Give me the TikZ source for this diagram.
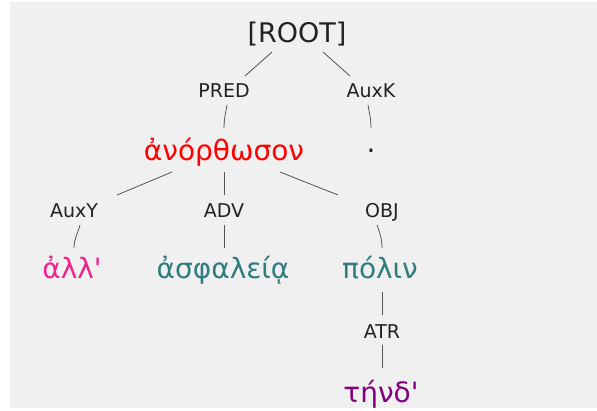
\documentclass[tikz,border=0pt]{standalone}
\usepackage{fontspec}
\setmainfont{DejaVu Sans}
\definecolor{bgray}{HTML}{F0F0F0}
\definecolor{edgegray}{HTML}{555555}
\definecolor{labelink}{HTML}{222222}
\definecolor{wred}{HTML}{FF0000}
\definecolor{wpink}{HTML}{F0208F}
\definecolor{wteal}{HTML}{2F7D7E}
\definecolor{wpurple}{HTML}{800080}
\tikzset{
  x=1pt, y=1pt,
  deprel/.style={anchor=base, inner sep=0pt, text=labelink, font=\fontsize{19}{22}\selectfont},
  token/.style={anchor=base, inner sep=0pt, font=\fontsize{28}{32}\selectfont},
  arc/.style={draw=edgegray, line width=0.8pt},
}
\begin{document}
\begin{tikzpicture}
  \useasboundingbox (0,0) rectangle (597,-410);
  \fill[bgray] (10,-2) rectangle (597,-408);

  % root and first-level relations
  \node[token, text=labelink, font=\fontsize{27}{32}\selectfont] (root) at (297,-42) {[ROOT]};
  \node[deprel] (pred) at (224,-97) {PRED};
  \node[deprel] (auxk) at (371,-97) {AuxK};

  % words of the sentence
  \node[token, text=wred] (w1) at (224,-160) {ἀνόρθωσον};
  \node[token, text=labelink] (dot) at (371,-160) {·};

  \node[deprel] (auxy) at (74,-217) {AuxY};
  \node[deprel] (adv) at (224,-217) {ADV};
  \node[deprel] (obj) at (382,-217) {OBJ};

  \node[token, text=wpink] (w2) at (72,-278) {ἀλλ\textquotesingle};
  \node[token, text=wteal] (w3) at (223,-278) {ἀσφαλείᾳ};
  \node[token, text=wteal] (w4) at (380,-278) {πόλιν};

  \node[deprel] (atr) at (382,-338) {ATR};
  \node[token, text=wpurple] (w5) at (381,-402) {τήνδ\textquotesingle};

  % dependency arcs
  \draw[arc] ([shift={(-25,-10)}]root.base) -- ([shift={(21,21)}]pred.base);
  \draw[arc] ([shift={(26,-10)}]root.base) -- ([shift={(-21,21)}]auxk.base);
  \draw[arc] ([shift={(3,-8)}]pred.base) to[out=-100, in=90] ([shift={(0,32)}]w1.base);
  \draw[arc] ([shift={(-3,-8)}]auxk.base) to[out=-80, in=90] ([shift={(0,32)}]dot.base);

  \draw[arc] ([shift={(-52,-12)}]w1.base) -- ([shift={(43,22)}]auxy.base);
  \draw[arc] ([shift={(0,-12)}]w1.base) -- ([shift={(0,22)}]adv.base);
  \draw[arc] ([shift={(56,-12)}]w1.base) -- ([shift={(-44,22)}]obj.base);

  \draw[arc] ([shift={(6,-8)}]auxy.base) to[out=-105, in=90] ([shift={(2,30)}]w2.base);
  \draw[arc] ([shift={(0,-8)}]adv.base) -- ([shift={(1,30)}]w3.base);
  \draw[arc] ([shift={(-5,-8)}]obj.base) to[out=-70, in=90] ([shift={(2,30)}]w4.base);

  \draw[arc] ([shift={(2,-14)}]w4.base) -- ([shift={(0,23)}]atr.base);
  \draw[arc] ([shift={(0,-7)}]atr.base) -- ([shift={(1,34)}]w5.base);
\end{tikzpicture}
\end{document}
